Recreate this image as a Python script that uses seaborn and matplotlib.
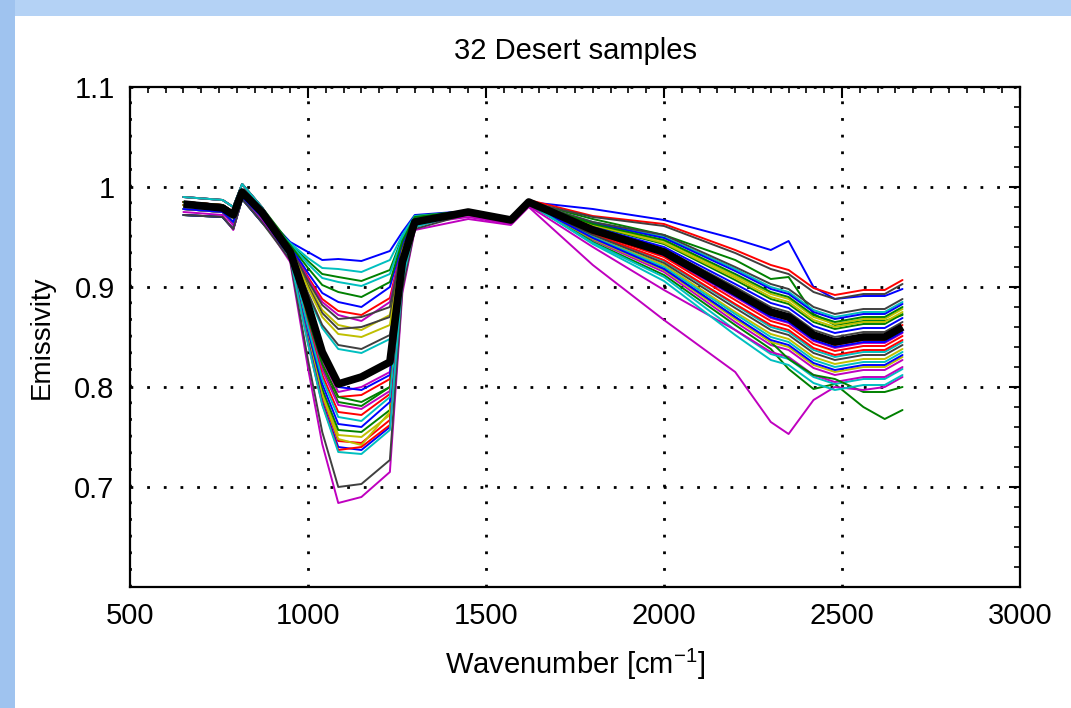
import numpy as np
import pandas as pd
import matplotlib
matplotlib.use("Agg")
import matplotlib.pyplot as plt
import seaborn as sns
from matplotlib.patches import Rectangle
from matplotlib.ticker import MultipleLocator, FixedLocator

# ---------------- data ----------------
wavenumber = [650, 760, 790, 815, 870, 950, 1000, 1040, 1085, 1150, 1230, 1265, 1300,
              1450, 1570, 1620, 1800, 2000, 2200, 2300, 2350, 2420, 2480, 2560, 2620, 2670]

sample_01 = [0.985, 0.982, 0.975, 0.995, 0.975, 0.945, 0.935, 0.927, 0.928, 0.926, 0.936, 0.955, 0.972, 0.976, 0.968, 0.985, 0.978, 0.967, 0.948, 0.937, 0.946, 0.900, 0.888, 0.891, 0.891, 0.898]
sample_02 = [0.990, 0.987, 0.980, 1.003, 0.980, 0.943, 0.926, 0.913, 0.910, 0.906, 0.917, 0.950, 0.971, 0.976, 0.968, 0.985, 0.968, 0.952, 0.927, 0.908, 0.910, 0.873, 0.862, 0.866, 0.866, 0.872]
sample_03 = [0.985, 0.982, 0.975, 0.995, 0.975, 0.941, 0.910, 0.888, 0.876, 0.872, 0.889, 0.942, 0.969, 0.976, 0.968, 0.987, 0.971, 0.963, 0.937, 0.922, 0.917, 0.899, 0.892, 0.897, 0.897, 0.907]
sample_04 = [0.978, 0.975, 0.965, 0.990, 0.970, 0.944, 0.929, 0.919, 0.918, 0.915, 0.927, 0.952, 0.971, 0.975, 0.967, 0.984, 0.965, 0.950, 0.918, 0.900, 0.895, 0.877, 0.870, 0.875, 0.875, 0.885]
sample_05 = [0.978, 0.975, 0.962, 0.990, 0.970, 0.940, 0.908, 0.885, 0.872, 0.866, 0.885, 0.941, 0.969, 0.972, 0.964, 0.982, 0.955, 0.931, 0.890, 0.869, 0.864, 0.846, 0.839, 0.844, 0.844, 0.854]
sample_06 = [0.972, 0.970, 0.958, 0.988, 0.965, 0.940, 0.903, 0.877, 0.862, 0.857, 0.872, 0.938, 0.968, 0.974, 0.966, 0.983, 0.962, 0.946, 0.911, 0.893, 0.888, 0.870, 0.863, 0.868, 0.868, 0.878]
sample_07 = [0.990, 0.987, 0.980, 1.003, 0.980, 0.940, 0.906, 0.882, 0.868, 0.870, 0.880, 0.940, 0.968, 0.976, 0.968, 0.985, 0.970, 0.961, 0.934, 0.918, 0.913, 0.895, 0.888, 0.893, 0.893, 0.903]
sample_08 = [0.982, 0.978, 0.970, 0.997, 0.972, 0.941, 0.914, 0.894, 0.885, 0.880, 0.900, 0.944, 0.969, 0.975, 0.967, 0.984, 0.964, 0.949, 0.916, 0.898, 0.893, 0.875, 0.868, 0.873, 0.873, 0.883]
sample_09 = [0.985, 0.982, 0.975, 0.995, 0.975, 0.933, 0.867, 0.819, 0.785, 0.781, 0.800, 0.919, 0.963, 0.976, 0.968, 0.985, 0.961, 0.943, 0.907, 0.888, 0.883, 0.865, 0.858, 0.863, 0.863, 0.873]
sample_10 = [0.982, 0.978, 0.970, 0.997, 0.972, 0.934, 0.869, 0.823, 0.790, 0.792, 0.808, 0.920, 0.964, 0.975, 0.967, 0.986, 0.954, 0.930, 0.887, 0.866, 0.861, 0.843, 0.836, 0.841, 0.841, 0.851]
sample_11 = [0.972, 0.970, 0.958, 0.988, 0.965, 0.943, 0.923, 0.909, 0.905, 0.901, 0.913, 0.949, 0.970, 0.974, 0.966, 0.983, 0.953, 0.926, 0.882, 0.860, 0.855, 0.837, 0.830, 0.835, 0.835, 0.845]
sample_12 = [0.972, 0.970, 0.958, 0.988, 0.965, 0.934, 0.872, 0.827, 0.795, 0.800, 0.815, 0.921, 0.964, 0.972, 0.964, 0.982, 0.947, 0.915, 0.865, 0.842, 0.837, 0.819, 0.812, 0.817, 0.817, 0.827]
sample_13 = [0.982, 0.978, 0.970, 0.997, 0.972, 0.931, 0.851, 0.794, 0.752, 0.750, 0.772, 0.911, 0.961, 0.974, 0.966, 0.983, 0.950, 0.922, 0.875, 0.853, 0.848, 0.830, 0.823, 0.828, 0.828, 0.838]
sample_14 = [0.982, 0.978, 0.970, 0.997, 0.972, 0.939, 0.901, 0.874, 0.858, 0.860, 0.870, 0.937, 0.968, 0.975, 0.967, 0.984, 0.959, 0.938, 0.900, 0.880, 0.875, 0.857, 0.850, 0.855, 0.855, 0.865]
sample_15 = [0.990, 0.987, 0.980, 1.003, 0.980, 0.935, 0.874, 0.830, 0.800, 0.797, 0.812, 0.923, 0.964, 0.976, 0.968, 0.985, 0.960, 0.940, 0.903, 0.884, 0.879, 0.861, 0.854, 0.859, 0.859, 0.869]
sample_16 = [0.972, 0.970, 0.958, 0.988, 0.965, 0.931, 0.854, 0.798, 0.757, 0.755, 0.777, 0.912, 0.962, 0.974, 0.966, 0.983, 0.945, 0.912, 0.862, 0.838, 0.818, 0.798, 0.803, 0.780, 0.768, 0.777]
sample_17 = [0.985, 0.982, 0.975, 0.995, 0.975, 0.930, 0.849, 0.790, 0.746, 0.744, 0.767, 0.909, 0.961, 0.976, 0.968, 0.986, 0.956, 0.933, 0.892, 0.872, 0.867, 0.849, 0.842, 0.847, 0.847, 0.857]
sample_18 = [0.978, 0.975, 0.965, 0.990, 0.970, 0.938, 0.892, 0.859, 0.838, 0.834, 0.848, 0.932, 0.966, 0.974, 0.966, 0.983, 0.944, 0.910, 0.857, 0.833, 0.828, 0.810, 0.803, 0.808, 0.808, 0.818]
sample_19 = [0.978, 0.975, 0.962, 0.990, 0.970, 0.933, 0.865, 0.817, 0.782, 0.778, 0.796, 0.918, 0.963, 0.970, 0.963, 0.981, 0.940, 0.897, 0.857, 0.835, 0.830, 0.812, 0.805, 0.810, 0.810, 0.820]
sample_20 = [0.982, 0.978, 0.970, 0.997, 0.972, 0.930, 0.849, 0.792, 0.748, 0.742, 0.775, 0.910, 0.961, 0.975, 0.967, 0.984, 0.962, 0.944, 0.909, 0.890, 0.885, 0.867, 0.860, 0.865, 0.865, 0.875]
sample_21 = [0.985, 0.982, 0.975, 0.995, 0.975, 0.938, 0.894, 0.862, 0.842, 0.838, 0.852, 0.933, 0.967, 0.976, 0.968, 0.985, 0.965, 0.952, 0.920, 0.903, 0.898, 0.880, 0.873, 0.878, 0.878, 0.888]
sample_22 = [0.972, 0.970, 0.958, 0.988, 0.965, 0.932, 0.857, 0.803, 0.763, 0.760, 0.785, 0.913, 0.962, 0.974, 0.966, 0.983, 0.956, 0.932, 0.891, 0.870, 0.865, 0.847, 0.840, 0.845, 0.845, 0.855]
sample_23 = [0.978, 0.975, 0.965, 0.990, 0.970, 0.934, 0.869, 0.823, 0.790, 0.785, 0.800, 0.920, 0.964, 0.974, 0.966, 0.983, 0.948, 0.918, 0.870, 0.845, 0.828, 0.812, 0.808, 0.795, 0.795, 0.800]
sample_24 = [0.985, 0.982, 0.975, 0.995, 0.975, 0.933, 0.862, 0.812, 0.775, 0.772, 0.793, 0.916, 0.963, 0.976, 0.968, 0.986, 0.953, 0.927, 0.883, 0.862, 0.857, 0.839, 0.832, 0.837, 0.837, 0.847]
sample_25 = [0.990, 0.987, 0.980, 1.003, 0.980, 0.932, 0.860, 0.808, 0.770, 0.766, 0.790, 0.915, 0.962, 0.975, 0.967, 0.984, 0.950, 0.920, 0.873, 0.850, 0.845, 0.827, 0.820, 0.825, 0.825, 0.835]
sample_26 = [0.975, 0.972, 0.957, 0.990, 0.968, 0.925, 0.819, 0.743, 0.684, 0.690, 0.715, 0.894, 0.957, 0.968, 0.962, 0.980, 0.922, 0.867, 0.815, 0.765, 0.753, 0.787, 0.800, 0.797, 0.800, 0.810]
sample_27 = [0.978, 0.975, 0.965, 0.990, 0.970, 0.939, 0.899, 0.870, 0.853, 0.850, 0.862, 0.936, 0.967, 0.974, 0.966, 0.983, 0.948, 0.917, 0.868, 0.845, 0.840, 0.822, 0.815, 0.820, 0.820, 0.830]
sample_28 = [0.972, 0.970, 0.958, 0.988, 0.965, 0.927, 0.827, 0.755, 0.700, 0.703, 0.727, 0.898, 0.958, 0.973, 0.965, 0.982, 0.952, 0.924, 0.879, 0.857, 0.852, 0.834, 0.827, 0.832, 0.832, 0.842]
sample_29 = [0.978, 0.975, 0.965, 0.990, 0.970, 0.930, 0.846, 0.785, 0.740, 0.737, 0.760, 0.908, 0.961, 0.974, 0.966, 0.983, 0.949, 0.918, 0.870, 0.847, 0.842, 0.824, 0.817, 0.822, 0.822, 0.832]
sample_30 = [0.985, 0.982, 0.975, 0.995, 0.975, 0.942, 0.919, 0.902, 0.895, 0.890, 0.905, 0.946, 0.970, 0.976, 0.968, 0.985, 0.963, 0.947, 0.913, 0.895, 0.890, 0.872, 0.865, 0.870, 0.870, 0.880]
sample_31 = [0.990, 0.987, 0.980, 1.003, 0.980, 0.930, 0.844, 0.783, 0.737, 0.740, 0.762, 0.907, 0.960, 0.976, 0.968, 0.987, 0.958, 0.936, 0.897, 0.877, 0.872, 0.854, 0.847, 0.852, 0.852, 0.862]
sample_32 = [0.990, 0.987, 0.980, 1.003, 0.980, 0.929, 0.843, 0.782, 0.735, 0.733, 0.757, 0.906, 0.960, 0.975, 0.967, 0.984, 0.943, 0.906, 0.852, 0.827, 0.822, 0.804, 0.797, 0.802, 0.802, 0.812]

mean_emissivity = [0.983, 0.979, 0.972, 0.995, 0.975, 0.935, 0.882, 0.835, 0.803, 0.810, 0.825, 0.925, 0.965,
                   0.975, 0.967, 0.985, 0.957, 0.935, 0.895, 0.875, 0.870, 0.852, 0.845, 0.850, 0.850, 0.860]

samples = [sample_01, sample_02, sample_03, sample_04, sample_05, sample_06, sample_07, sample_08,
           sample_09, sample_10, sample_11, sample_12, sample_13, sample_14, sample_15, sample_16,
           sample_17, sample_18, sample_19, sample_20, sample_21, sample_22, sample_23, sample_24,
           sample_25, sample_26, sample_27, sample_28, sample_29, sample_30, sample_31, sample_32]

xtick_values = [500, 1000, 1500, 2000, 2500, 3000]
xtick_labels = ["500", "1000", "1500", "2000", "2500", "3000"]
ytick_values = [0.7, 0.8, 0.9, 1.0, 1.1]
ytick_labels = ["0.7", "0.8", "0.9", "1", "1.1"]

title_text = "32 Desert samples"
xlabel_text = "Wavenumber [cm$^{-1}$]"
ylabel_text = "Emissivity"

# ---------------- style ----------------
sns.set_style("white")
plt.rcParams['font.family'] = ['Liberation Sans', 'DejaVu Sans']
plt.rcParams['mathtext.default'] = 'regular'

# old MATLAB colour order
matlab_order = [(0, 0, 1), (0, 0.5, 0), (1, 0, 0), (0, 0.75, 0.75),
                (0.75, 0, 0.75), (0.75, 0.75, 0), (0.25, 0.25, 0.25)]

fig = plt.figure(figsize=(10.71, 7.08), dpi=100)
fig.patch.set_facecolor('white')
# slide background strips (light blue) at top and left
fig.patches.append(Rectangle((0, 1 - 16 / 708), 1, 16 / 708, transform=fig.transFigure,
                             facecolor='#b4d2f5', edgecolor='none', zorder=0))
fig.patches.append(Rectangle((0, 0), 15 / 1071, 1, transform=fig.transFigure,
                             facecolor='#9fc3ef', edgecolor='none', zorder=0))

ax = fig.add_axes([130 / 1071, 121 / 708, 890 / 1071, 500 / 708])
ax.set_facecolor('white')

names = [f"s{i + 1:02d}" for i in range(len(samples))]
df = pd.DataFrame({
    "wavenumber": np.tile(wavenumber, len(samples)),
    "emissivity": np.concatenate([np.asarray(s, dtype=float) for s in samples]),
    "sample": np.repeat(names, len(wavenumber)),
})
palette = {n: matlab_order[i % len(matlab_order)] for i, n in enumerate(names)}

sns.lineplot(data=df, x="wavenumber", y="emissivity", hue="sample", hue_order=names,
             palette=palette, estimator=None, sort=False, linewidth=1.4,
             legend=False, ax=ax)
sns.lineplot(x=wavenumber, y=mean_emissivity, color="black", linewidth=5.5,
             estimator=None, sort=False, ax=ax, solid_capstyle='butt')

ax.set_xlim(500, 3000)
ax.set_ylim(0.6, 1.1)
ax.xaxis.set_major_locator(FixedLocator(xtick_values))
ax.set_xticklabels(xtick_labels)
ax.yaxis.set_major_locator(FixedLocator(ytick_values))
ax.set_yticklabels(ytick_labels)
ax.xaxis.set_minor_locator(MultipleLocator(50))
ax.yaxis.set_minor_locator(MultipleLocator(0.02))

ax.grid(True, which='major', color='black', linestyle=(0, (1, 5)), linewidth=2)
ax.tick_params(which='both', direction='in', top=True, right=True, colors='black')
ax.tick_params(which='major', length=8, width=1.5, labelsize=21, pad=11)
ax.tick_params(which='minor', length=4, width=1.2)
for sp in ax.spines.values():
    sp.set_visible(True)
    sp.set_color('black')
    sp.set_linewidth(1.6)

ax.set_title(title_text, fontsize=21, pad=20, color='black')
ax.set_xlabel(xlabel_text, fontsize=21, labelpad=12, color='black')
ax.set_ylabel(ylabel_text, fontsize=20, labelpad=14, color='black')

fig.savefig("out.png", dpi=100, facecolor=fig.get_facecolor())
